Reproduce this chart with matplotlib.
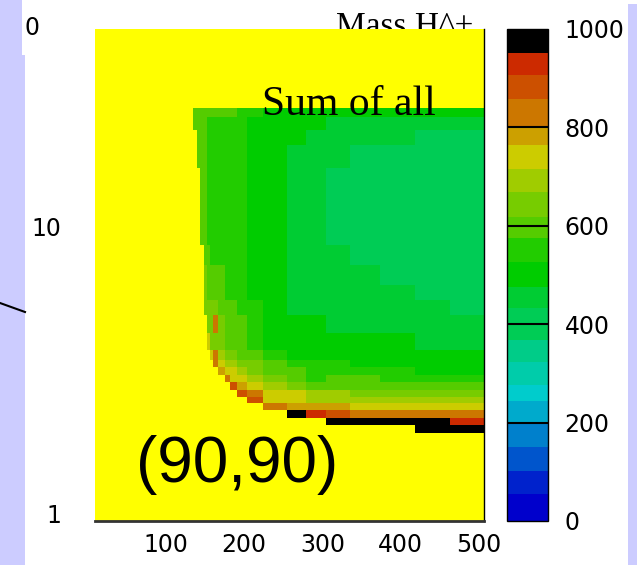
import numpy as np
import matplotlib
matplotlib.use('Agg')
import matplotlib.pyplot as plt
from matplotlib.colors import ListedColormap, BoundaryNorm
from matplotlib.patches import Rectangle
from matplotlib.lines import Line2D
from matplotlib.ticker import NullLocator

plt.rcParams['font.family'] = ['DejaVu Sans']

# bin edges of the histogram (Mass H^+ and tan beta)
X_EDGES = [134, 140, 144, 149, 152, 156, 160, 167, 175, 182, 191, 204, 224,
           255, 279, 305, 335, 374, 418, 463, 510]
Y_EDGES = [1.91, 2.04, 2.15, 2.30, 2.43, 2.55, 2.70, 2.88, 3.04, 3.25, 3.43,
           3.72, 4.27, 4.93, 5.56, 6.28, 7.37, 8.65, 10.6, 12.9, 16.1, 19.3,
           21.8, 24.2, 26.0]

# cell contents, top row (largest tan beta) first, 0 = empty
Z_ROWS = [
    [595, 595, 595, 595, 595, 595, 595, 595, 595, 595, 550, 550, 500, 500, 500, 500, 500, 500, 500, 500],
    [595, 595, 595, 595, 550, 550, 550, 550, 550, 550, 550, 500, 500, 500, 500, 455, 455, 455, 455, 455],
    [0, 595, 595, 595, 550, 550, 550, 550, 550, 550, 550, 500, 500, 500, 455, 455, 455, 455, 400, 400],
    [0, 595, 595, 595, 550, 550, 550, 550, 550, 550, 550, 500, 500, 455, 455, 455, 400, 400, 400, 400],
    [0, 0, 595, 595, 550, 550, 550, 550, 550, 550, 550, 500, 500, 455, 455, 400, 400, 400, 400, 400],
    [0, 0, 595, 595, 550, 550, 550, 550, 550, 550, 550, 500, 500, 455, 455, 400, 400, 400, 400, 400],
    [0, 0, 595, 595, 550, 550, 550, 550, 550, 550, 550, 500, 500, 455, 455, 400, 400, 400, 400, 400],
    [0, 0, 0, 595, 595, 550, 550, 550, 550, 550, 550, 500, 500, 455, 455, 455, 400, 400, 400, 400],
    [0, 0, 0, 640, 595, 595, 595, 595, 550, 550, 550, 500, 500, 455, 455, 455, 455, 400, 400, 400],
    [0, 0, 0, 640, 595, 595, 595, 595, 550, 550, 550, 500, 500, 455, 455, 455, 455, 455, 400, 400],
    [0, 0, 0, 640, 640, 640, 640, 595, 595, 595, 550, 550, 500, 455, 455, 455, 455, 455, 455, 400],
    [0, 0, 0, 0, 640, 640, 830, 640, 595, 595, 595, 550, 500, 500, 500, 455, 455, 455, 455, 455],
    [0, 0, 0, 0, 740, 640, 640, 640, 595, 595, 595, 550, 500, 500, 500, 500, 500, 500, 455, 455],
    [0, 0, 0, 0, 0, 740, 830, 690, 640, 640, 595, 595, 550, 500, 500, 500, 500, 500, 500, 500],
    [0, 0, 0, 0, 0, 0, 830, 740, 690, 690, 640, 640, 595, 550, 550, 550, 500, 500, 500, 500],
    [0, 0, 0, 0, 0, 0, 0, 780, 740, 740, 690, 640, 595, 595, 550, 550, 550, 550, 500, 500],
    [0, 0, 0, 0, 0, 0, 0, 0, 830, 740, 740, 690, 640, 595, 550, 595, 595, 550, 550, 550],
    [0, 0, 0, 0, 0, 0, 0, 0, 0, 880, 780, 740, 690, 640, 595, 595, 595, 595, 595, 595],
    [0, 0, 0, 0, 0, 0, 0, 0, 0, 0, 880, 800, 740, 740, 690, 690, 640, 640, 640, 640],
    [0, 0, 0, 0, 0, 0, 0, 0, 0, 0, 0, 900, 740, 740, 690, 690, 690, 690, 690, 690],
    [0, 0, 0, 0, 0, 0, 0, 0, 0, 0, 0, 0, 850, 780, 780, 780, 740, 740, 740, 740],
    [0, 0, 0, 0, 0, 0, 0, 0, 0, 0, 0, 0, 0, 980, 930, 880, 850, 830, 830, 830],
    [0, 0, 0, 0, 0, 0, 0, 0, 0, 0, 0, 0, 0, 0, 0, 980, 980, 980, 980, 930],
    [0, 0, 0, 0, 0, 0, 0, 0, 0, 0, 0, 0, 0, 0, 0, 0, 0, 0, 980, 980],
]

# palette (bottom to top of the colour scale)
LEVELS = [0, 55, 101, 150, 200, 243, 277, 324, 368, 433, 476, 526, 575, 617,
          668, 715, 765, 798, 858, 907, 951, 1000]
COLORS = ['#0000cc', '#0022cc', '#0055cc', '#0080cc', '#00aacc', '#00cccc',
          '#00ccaa', '#00cc88', '#00cc55', '#00cc33', '#00cc00', '#22cc00',
          '#55cc00', '#77cc00', '#a0cc00', '#cccc00', '#cca000', '#cc7700',
          '#cc5000', '#cc2a00', '#000000']

X_TICKS = [100, 200, 300, 400, 500]
Y_TICKS = [1, 10]
CB_TICKS = [0, 200, 400, 600, 800, 1000]

W, H = 637, 565
LAVENDER = '#ccccff'


def fx(px):
    return px / W


def fy(py):
    return 1 - py / H


fig = plt.figure(figsize=(W / 100, H / 100), dpi=100)

# slide background strips
for x0, y0, x1, y1 in [(0, 0, 22, 55), (0, 55, 25, H), (628, 4, W, H)]:
    fig.patches.append(Rectangle((fx(x0), fy(y1)), fx(x1 - x0), (y1 - y0) / H,
                                 transform=fig.transFigure, color=LAVENDER,
                                 lw=0, zorder=-5))
fig.lines.append(Line2D([fx(0), fx(25)], [fy(303), fy(312)],
                        transform=fig.transFigure, color='black', lw=1.5))

ax = fig.add_axes([fx(95), fy(521), fx(389), 492 / H])
ax.set_facecolor('#ffff00')

z = np.ma.masked_equal(np.array(Z_ROWS[::-1], dtype=float), 0)
cmap = ListedColormap(COLORS)
norm = BoundaryNorm(LEVELS, cmap.N)
mesh = ax.pcolormesh(X_EDGES, Y_EDGES, z, cmap=cmap, norm=norm,
                     shading='flat')

ax.set_yscale('log')
ax.set_xlim(9.3, 506.4)
ax.set_ylim(0.9415, 49.1)
ax.set_xticks(X_TICKS)
ax.set_yticks(Y_TICKS)
ax.set_yticklabels([str(v) for v in Y_TICKS])
ax.yaxis.set_minor_locator(NullLocator())
ax.tick_params(axis='x', length=0, pad=9, labelsize=17)
ax.tick_params(axis='y', length=0, pad=24, labelsize=17)
ax.spines['top'].set_visible(False)
ax.spines['left'].set_visible(False)
ax.spines['bottom'].set_color('#333333')
ax.spines['bottom'].set_linewidth(2)
ax.spines['right'].set_color('black')
ax.spines['right'].set_linewidth(1)

cax = fig.add_axes([fx(507), fy(521), fx(41), 492 / H])
cb = fig.colorbar(mesh, cax=cax, ticks=CB_TICKS, spacing='proportional')
cb.outline.set_edgecolor('black')
cb.outline.set_linewidth(1)
cb.minorticks_off()
cax.tick_params(which='both', length=0, pad=12, labelsize=17)
for v in CB_TICKS[1:-1]:
    cax.axhline(v, color='black', lw=1.5)

# texts
fig.text(fx(405), fy(35), 'Mass H^+', family='Liberation Serif', size=24,
         ha='center', va='baseline', zorder=-1)
fig.text(fx(349), fy(115), 'Sum of all', family='Liberation Serif', size=30,
         ha='center', va='baseline', zorder=5)
fig.text(fx(237), fy(482), '(90,90)', family='Liberation Sans', size=46,
         ha='center', va='baseline', zorder=5)
fig.text(fx(25), fy(35), '0', size=17, ha='left', va='baseline')

fig.savefig('out.png', dpi=100)
